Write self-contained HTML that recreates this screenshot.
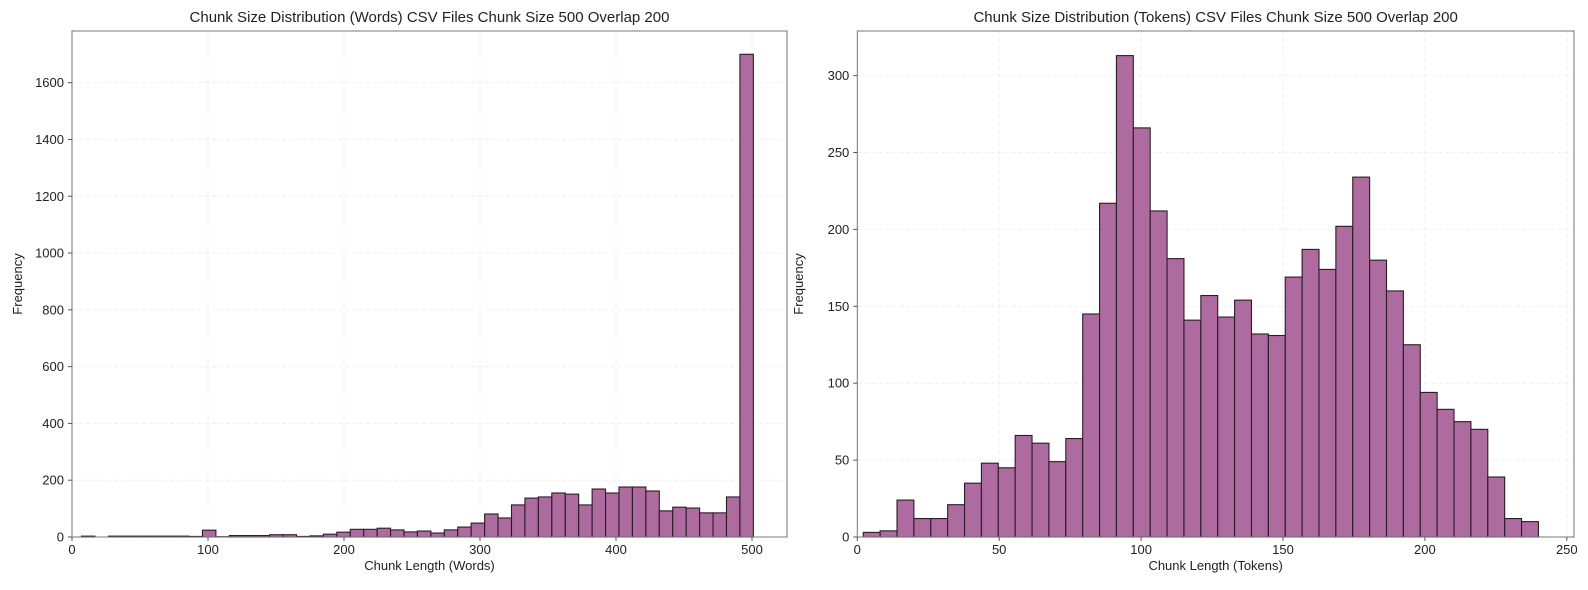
<!DOCTYPE html>
<html><head><meta charset="utf-8">
<style>
html,body{margin:0;padding:0;background:#fff;}
svg{display:block;font-family:"Liberation Sans",sans-serif;}
</style></head>
<body>
<svg id="fig" width="1588" height="590" viewBox="0 0 1588 590"></svg>
<script>
const wordsCounts = [3,0,3,3,3,3,3,3,2,24, 1,5,5,5,8,8,2,4,10,17, 27,27,31,25,18,21,14,25,35,49, 81,67,113,137,141,155,151,113,169,155, 176,176,162,92,105,102,85,85,141,1700];
const wordsRange = [7, 501];
const wordsXTicks = [0,100,200,300,400,500];
const wordsYTicks = [0,200,400,600,800,1000,1200,1400,1600];

const tokenCounts = [3,4,24,12,12,21,35,48,45,66, 61,49,64,145,217,313,266,212,181,141, 157,143,154,132,131,169,187,174,202,234, 180,160,125,94,83,75,70,39,12,10];
const tokenRange = [2.1, 240];
const tokenXTicks = [0,50,100,150,200,250];
const tokenYTicks = [0,50,100,150,200,250,300];

const NS = "http://www.w3.org/2000/svg";
const svg = document.getElementById('fig');
function mk(tag, attrs, parent){
  const e = document.createElementNS(NS, tag);
  for (const k in attrs) e.setAttribute(k, attrs[k]);
  (parent||svg).appendChild(e);
  return e;
}

function chart(cfg){
  const g = mk('g', {});
  
  
  const L=cfg.left, R=cfg.right, T=31, B=537;
  const xs = v => L + (v - cfg.xmin) / (cfg.xmax - cfg.xmin) * (R - L);
  const ys = v => B - v / cfg.ymax * (B - T);
  cfg.xticks.forEach(t => {
    const l = mk('line', {x1:xs(t), x2:xs(t), y1:T, y2:B, stroke:'#efefef', 'stroke-dasharray':'4,3', 'stroke-width':1}, g);
    
    
  });
  cfg.yticks.forEach(t => {
    const l = mk('line', {x1:L, x2:R, y1:ys(t), y2:ys(t), stroke:'#efefef', 'stroke-dasharray':'4,3', 'stroke-width':1}, g);
    
    
  });
  const n = cfg.counts.length;
  const w = (cfg.range[1] - cfg.range[0]) / n;
  cfg.counts.forEach((c, i) => {
    if (c <= 0) return;
    const x0 = xs(cfg.range[0] + i*w), x1 = xs(cfg.range[0] + (i+1)*w);
    const r = mk('rect', {x:x0, y:ys(c), width:x1-x0, height:B-ys(c), fill:'#ae6b9f', stroke:'#2b1b27', 'stroke-width':1.1}, g);
    
    
  });
  const f = mk('rect', {x:L, y:T, width:R-L, height:B-T, fill:'none', stroke:'#777', 'stroke-width':1}, g);
  
  
  cfg.xticks.forEach(t => {
    mk('line', {x1:xs(t), x2:xs(t), y1:B, y2:B+4, stroke:'#555'}, g);
    const tx = mk('text', {x:xs(t), y:B+17, 'text-anchor':'middle', 'font-size':13, fill:'#222'}, g);
    tx.textContent = t;
    
    
  });
  cfg.yticks.forEach(t => {
    mk('line', {x1:L-4, x2:L, y1:ys(t), y2:ys(t), stroke:'#555'}, g);
    const tx = mk('text', {x:L-8, y:ys(t)+4.5, 'text-anchor':'end', 'font-size':13, fill:'#222'}, g);
    tx.textContent = t;
    
    
  });
  const title = mk('text', {x:(L+R)/2, y:22, 'text-anchor':'middle', 'font-size':15, fill:'#222'}, g);
  title.textContent = cfg.title;
  
  
  const xl = mk('text', {x:(L+R)/2, y:570, 'text-anchor':'middle', 'font-size':13, fill:'#222'}, g);
  xl.textContent = cfg.xlabel;
  
  
  const yx = cfg.ylabelX, yy = (T+B)/2;
  const yl = mk('text', {x:yx, y:yy, 'text-anchor':'middle', 'font-size':13, fill:'#222', transform:`rotate(-90 ${yx} ${yy})`}, g);
  yl.textContent = 'Frequency';
  
  
}

chart({name:'words-histogram', left:72, right:787, xmin:0, xmax:(787-72)/1.36, ymax:1782,
  counts:wordsCounts, range:wordsRange, xticks:wordsXTicks, yticks:wordsYTicks,
  title:'Chunk Size Distribution (Words) CSV Files Chunk Size 500 Overlap 200',
  xlabel:'Chunk Length (Words)', ylabelX:22});
chart({name:'tokens-histogram', left:857.3, right:1574, xmin:0, xmax:(1574-857.3)/2.838, ymax:329,
  counts:tokenCounts, range:tokenRange, xticks:tokenXTicks, yticks:tokenYTicks,
  title:'Chunk Size Distribution (Tokens) CSV Files Chunk Size 500 Overlap 200',
  xlabel:'Chunk Length (Tokens)', ylabelX:803});
</script>
</body></html>
